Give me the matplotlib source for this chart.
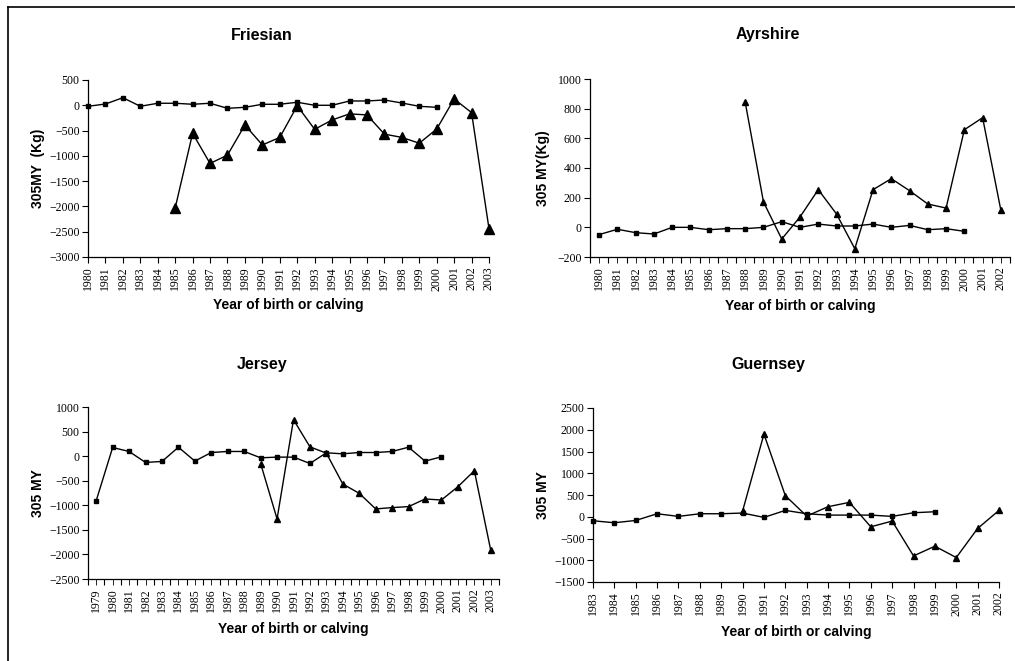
"""
Genetic/phenotypic trends in 305-day milk yield for four breeds.
Run: python plot.py
"""

import matplotlib.pyplot as plt
from matplotlib.lines import Line2D

# ---- data ----
friesian_sq_years = list(range(1980, 2001))
friesian_sq = [-20, 25, 150, -20, 40, 40, 20, 40, -60, -40, 20,
               20, 60, 0, 0, 85, 85, 105, 45, -20, -40]
friesian_tri_years = list(range(1985, 2004))
friesian_tri = [-2030, -555, -1150, -985, -390, -785, -635, -10, -475, -290,
                -170, -190, -570, -635, -750, -470, 125, -145, -2440]

ayrshire_sq_years = list(range(1980, 2001))
ayrshire_sq = [-49, -13, -36, -45, 0, 0, -16, -9, -9, 0, 38,
               0, 22, 9, 9, 22, 0, 13, -16, -9, -27]
ayrshire_tri_years = list(range(1988, 2003))
ayrshire_tri = [843, 171, -79, 70, 254, 90, -144, 254, 328, 247,
                157, 130, 658, 739, 115]

jersey_sq_years = list(range(1979, 2001))
jersey_sq = [-905, 176, 95, -128, -108, 182, -101, 74, 95, 95, -34,
             -20, -20, -149, 68, 47, 74, 74, 95, 182, -101, -14]
jersey_tri_years = list(range(1989, 2004))
jersey_tri = [-150, -1277, 743, 189, 60, -568, -757, -1074, -1047, -1027,
              -872, -892, -622, -297, -1919]

guernsey_sq_years = list(range(1983, 2000))
guernsey_sq = [-92, -138, -85, 69, 8, 69, 69, 85, -15, 146, 69,
               38, 38, 38, 8, 92, 115]
guernsey_tri_years = list(range(1990, 2003))
guernsey_tri = [131, 1900, 485, 15, 231, 331, -231, -100, -900, -677,
                -938, -269, 146]

W, H = 1015, 661
SERIF = "Liberation Serif"
SANS = "Liberation Sans"

plt.rcParams.update({
    "axes.spines.top": False,
    "axes.spines.right": False,
    "axes.linewidth": 0.9,
    "xtick.direction": "out",
    "ytick.direction": "out",
})

fig = plt.figure(figsize=(W / 100, H / 100), dpi=100)


def px_axes(left, top, right, bottom):
    return fig.add_axes([left / W, 1 - bottom / H, (right - left) / W, (bottom - top) / H])


# title, ylabel, axes box (px), year range, points on ticks?, ylim, ystep,
# series, triangle marker size, title pos, xlabel y, ylabel x
panels = [
    ("Friesian", "305MY  (Kg)", (88, 80, 489, 257), (1980, 2003), True,
     (-3000, 500), 500, friesian_sq_years, friesian_sq,
     friesian_tri_years, friesian_tri, 6.5, (262, 36), 305, 38),
    ("Ayrshire", "305 MY(Kg)", (590, 79, 1010, 257), (1980, 2002), False,
     (-200, 1000), 200, ayrshire_sq_years, ayrshire_sq,
     ayrshire_tri_years, ayrshire_tri, 4.8, (768, 35), 306, 543),
    ("Jersey", "305 MY", (88, 407, 499, 579), (1979, 2003), False,
     (-2500, 1000), 500, jersey_sq_years, jersey_sq,
     jersey_tri_years, jersey_tri, 4.8, (262, 365), 629, 38),
    ("Guernsey", "305 MY", (593, 408, 999, 582), (1983, 2002), True,
     (-1500, 2500), 500, guernsey_sq_years, guernsey_sq,
     guernsey_tri_years, guernsey_tri, 4.8, (768, 365), 632, 543),
]

for (title, ylab, box, (y0, y1), on_ticks, ylim, ystep,
     sq_x, sq_y, tri_x, tri_y, tri_ms, (tx, ty), xlab_y, ylab_x) in panels:
    ax = px_axes(*box)
    ax.plot(sq_x, sq_y, color="black", linewidth=1.0, marker="s",
            markersize=3.3, clip_on=False)
    ax.plot(tri_x, tri_y, color="black", linewidth=1.0, marker="^",
            markersize=tri_ms, clip_on=False)

    years = list(range(y0, y1 + 1))
    if on_ticks:
        ax.set_xlim(y0, y1)
        ax.set_xticks(years)
        ax.set_xticklabels([str(y) for y in years])
    else:
        ax.set_xlim(y0 - 0.5, y1 + 0.5)
        ax.set_xticks([y - 0.5 for y in years] + [y1 + 0.5])
        ax.set_xticklabels([])
        ax.set_xticks(years, minor=True)
        ax.set_xticklabels([str(y) for y in years], minor=True)
        ax.tick_params(axis="x", which="minor", length=0)
    ax.tick_params(axis="x", which="both", labelrotation=90, labelsize=8.5,
                   pad=3, length=4)
    ax.tick_params(axis="y", labelsize=8.5, length=4, pad=2)

    ax.set_ylim(*ylim)
    ax.set_yticks(range(ylim[0], ylim[1] + 1, ystep))
    for lbl in ax.get_xticklabels(which="both") + ax.get_yticklabels():
        lbl.set_fontfamily(SERIF)

    # text placed at the reference's pixel positions
    fig.text(tx / W, 1 - ty / H, title, fontfamily=SANS, fontweight="bold",
             fontsize=11.5, ha="center", va="center")
    cx = (box[0] + box[2]) / 2
    cy = (box[1] + box[3]) / 2
    fig.text(cx / W, 1 - xlab_y / H, "Year of birth or calving",
             fontfamily=SANS, fontweight="bold", fontsize=10,
             ha="center", va="center")
    fig.text(ylab_x / W, 1 - cy / H, ylab, fontfamily=SANS,
             fontweight="bold", fontsize=10, rotation=90,
             ha="center", va="center")

# frame lines (top and left) of the original figure box
fig.add_artist(Line2D([8 / W, 1], [1 - 7 / H, 1 - 7 / H], color="black",
                      linewidth=1.2, transform=fig.transFigure))
fig.add_artist(Line2D([8 / W, 8 / W], [0, 1 - 7 / H], color="black",
                      linewidth=1.2, transform=fig.transFigure))

fig.savefig("out.png", dpi=100)
